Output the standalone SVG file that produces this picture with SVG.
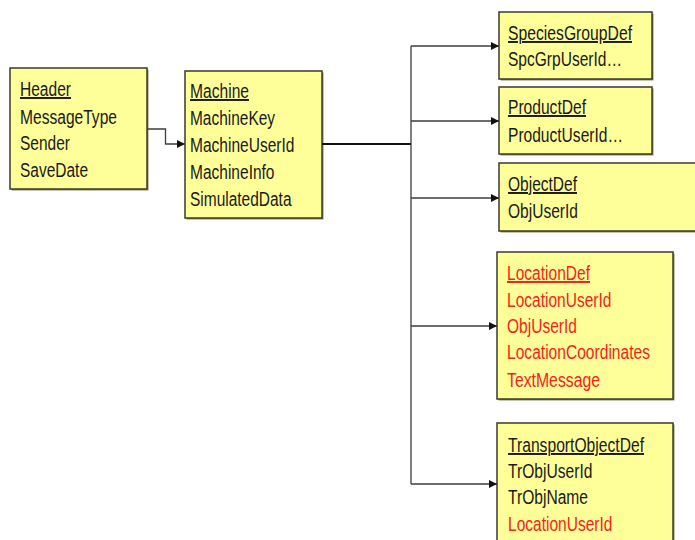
<svg xmlns="http://www.w3.org/2000/svg" width="695" height="540" viewBox="0 0 695 540">
<style>
.box{fill:#FFFF99;stroke:#3a3a2a;stroke-width:1.5}
.sh{fill:#8a8a60}
.t{font-family:"Liberation Sans",Arial,sans-serif;font-size:19.5px;fill:#1a1a1a}
.r{fill:#FF1a1a}
.u{text-decoration:underline}
.c{fill:none;stroke:#3c3c3c;stroke-width:1.3}
.main{fill:none;stroke:#111;stroke-width:2}
</style>
<defs>
<marker id="ah" viewBox="0 0 10 10" refX="10" refY="5" markerWidth="9" markerHeight="8" markerUnits="userSpaceOnUse" orient="auto">
<path d="M0,0 L10,5 L0,10 z" fill="#111"/>
</marker>
</defs>
<rect width="695" height="540" fill="#fff"/>

<g id="header">
<rect class="sh" x="11.5" y="69.5" width="137" height="121"/>
<rect class="box" x="10" y="68" width="137" height="121"/>
<text class="t u" x="20" y="96" textLength="51" lengthAdjust="spacingAndGlyphs">Header</text>
<text class="t" x="20" y="124" textLength="97" lengthAdjust="spacingAndGlyphs">MessageType</text>
<text class="t" x="20" y="150" textLength="50" lengthAdjust="spacingAndGlyphs">Sender</text>
<text class="t" x="20" y="177" textLength="68" lengthAdjust="spacingAndGlyphs">SaveDate</text>
</g>

<g id="machine">
<rect class="sh" x="186.5" y="72.5" width="137" height="147"/>
<rect class="box" x="185" y="71" width="137" height="147"/>
<text class="t u" x="190" y="98" textLength="59" lengthAdjust="spacingAndGlyphs">Machine</text>
<text class="t" x="190" y="125" textLength="85" lengthAdjust="spacingAndGlyphs">MachineKey</text>
<text class="t" x="190" y="152" textLength="104.5" lengthAdjust="spacingAndGlyphs">MachineUserId</text>
<text class="t" x="190" y="179" textLength="84.5" lengthAdjust="spacingAndGlyphs">MachineInfo</text>
<text class="t" x="190" y="206" textLength="101.5" lengthAdjust="spacingAndGlyphs">SimulatedData</text>
</g>

<g id="speciesgroupdef">
<rect class="sh" x="500.5" y="13.5" width="153" height="67"/>
<rect class="box" x="499" y="12" width="153" height="67"/>
<text class="t u" x="508" y="40" textLength="124" lengthAdjust="spacingAndGlyphs">SpeciesGroupDef</text>
<text class="t" x="508" y="66" textLength="114" lengthAdjust="spacingAndGlyphs">SpcGrpUserId…</text>
</g>

<g id="productdef">
<rect class="sh" x="500.5" y="88.5" width="153" height="67"/>
<rect class="box" x="499" y="87" width="153" height="67"/>
<text class="t u" x="508" y="114" textLength="78" lengthAdjust="spacingAndGlyphs">ProductDef</text>
<text class="t" x="508" y="142" textLength="115" lengthAdjust="spacingAndGlyphs">ProductUserId…</text>
</g>

<g id="objectdef">
<rect class="sh" x="500.5" y="164.5" width="210" height="68"/>
<rect class="box" x="499" y="163" width="210" height="68"/>
<text class="t u" x="508" y="191" textLength="69" lengthAdjust="spacingAndGlyphs">ObjectDef</text>
<text class="t" x="508" y="218" textLength="70" lengthAdjust="spacingAndGlyphs">ObjUserId</text>
</g>

<g id="locationdef">
<rect class="sh" x="498.5" y="253.5" width="176" height="147"/>
<rect class="box" x="497" y="252" width="176" height="147"/>
<text class="t r u" x="507" y="280" textLength="83" lengthAdjust="spacingAndGlyphs">LocationDef</text>
<text class="t r" x="507" y="307" textLength="104.5" lengthAdjust="spacingAndGlyphs">LocationUserId</text>
<text class="t r" x="507" y="333" textLength="70" lengthAdjust="spacingAndGlyphs">ObjUserId</text>
<text class="t r" x="507" y="359" textLength="143" lengthAdjust="spacingAndGlyphs">LocationCoordinates</text>
<text class="t r" x="507" y="387" textLength="93" lengthAdjust="spacingAndGlyphs">TextMessage</text>
</g>

<g id="transportobjectdef">
<rect class="sh" x="498.5" y="424.5" width="176" height="130"/>
<rect class="box" x="497" y="423" width="176" height="130"/>
<text class="t u" x="508" y="452" textLength="136" lengthAdjust="spacingAndGlyphs">TransportObjectDef</text>
<text class="t" x="508" y="478" textLength="84.5" lengthAdjust="spacingAndGlyphs">TrObjUserId</text>
<text class="t" x="508" y="504" textLength="80" lengthAdjust="spacingAndGlyphs">TrObjName</text>
<text class="t r" x="508" y="531" textLength="104.5" lengthAdjust="spacingAndGlyphs">LocationUserId</text>
</g>

<g id="connectors">
<path class="c" d="M147,129 H165.5 V144 H185" marker-end="url(#ah)"/>
<path class="main" d="M322,144 H411"/>
<path class="c" d="M411,46 V484"/>
<path class="c" d="M411,46 H499" marker-end="url(#ah)"/>
<path class="c" d="M411,121 H499" marker-end="url(#ah)"/>
<path class="c" d="M411,198 H499" marker-end="url(#ah)"/>
<path class="c" d="M411,326 H497" marker-end="url(#ah)"/>
<path class="c" d="M411,484 H497" marker-end="url(#ah)"/>
</g>
</svg>
